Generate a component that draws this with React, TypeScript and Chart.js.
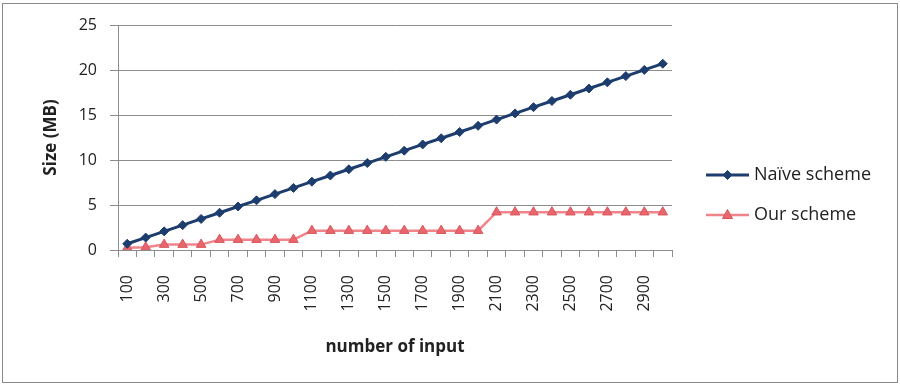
import React, { useEffect, useRef } from "react";
import { Chart, registerables } from "chart.js";

Chart.register(...registerables);

const categories: string[] = [
  "100", "200", "300", "400", "500", "600", "700", "800", "900", "1000",
  "1100", "1200", "1300", "1400", "1500", "1600", "1700", "1800", "1900", "2000",
  "2100", "2200", "2300", "2400", "2500", "2600", "2700", "2800", "2900", "3000",
];

const naiveScheme: number[] = [
  0.69, 1.38, 2.07, 2.76, 3.45, 4.14, 4.83, 5.52, 6.21, 6.9,
  7.59, 8.28, 8.97, 9.66, 10.35, 11.04, 11.73, 12.42, 13.11, 13.8,
  14.49, 15.18, 15.87, 16.56, 17.25, 17.94, 18.63, 19.32, 20.01, 20.7,
];

const ourScheme: number[] = [
  0.25, 0.3, 0.6, 0.6, 0.6, 1.15, 1.15, 1.15, 1.15, 1.15,
  2.15, 2.15, 2.15, 2.15, 2.15, 2.15, 2.15, 2.15, 2.15, 2.15,
  4.2, 4.2, 4.2, 4.2, 4.2, 4.2, 4.2, 4.2, 4.2, 4.2,
];

const seriesNames: string[] = ["Naïve scheme", "Our scheme"];
const yTicks = { min: 0, max: 25, step: 5 };

const NAVY = "#1c3d6e";
const PINK_LINE = "#f0848a";
const PINK_FILL = "#e8676e";
const PINK_BORDER = "#d9545a";
const GRID = "#8c8c8c";
const FONT = "'Open Sans', sans-serif";

const legendPlugin = {
  id: "customLegend",
  afterDraw(chart: any) {
    const ctx = chart.ctx as CanvasRenderingContext2D;
    const items = [
      { name: seriesNames[0], y: 175, color: NAVY, fill: NAVY, border: NAVY, shape: "diamond" },
      { name: seriesNames[1], y: 215, color: PINK_LINE, fill: PINK_FILL, border: PINK_BORDER, shape: "triangle" },
    ];
    ctx.save();
    for (const it of items) {
      ctx.strokeStyle = it.color;
      ctx.lineWidth = it.shape === "diamond" ? 3 : 2.5;
      ctx.beginPath();
      ctx.moveTo(706, it.y);
      ctx.lineTo(749, it.y);
      ctx.stroke();
      const cx = 727.5;
      ctx.fillStyle = it.fill;
      ctx.strokeStyle = it.border;
      ctx.lineWidth = 1;
      ctx.beginPath();
      if (it.shape === "diamond") {
        ctx.moveTo(cx, it.y - 4.5);
        ctx.lineTo(cx + 4.5, it.y);
        ctx.lineTo(cx, it.y + 4.5);
        ctx.lineTo(cx - 4.5, it.y);
      } else {
        ctx.moveTo(cx, it.y - 5.5);
        ctx.lineTo(cx + 5, it.y + 3.5);
        ctx.lineTo(cx - 5, it.y + 3.5);
      }
      ctx.closePath();
      ctx.fill();
      ctx.stroke();
      ctx.fillStyle = "#222";
      ctx.font = `18px ${FONT}`;
      ctx.textAlign = "left";
      ctx.textBaseline = "middle";
      ctx.fillText(it.name, 754, it.y);
    }
    ctx.restore();
  },
};

export default function App() {
  const ref = useRef<HTMLCanvasElement | null>(null);

  useEffect(() => {
    document.body.style.margin = "0";
    if (!ref.current) return;
    const chart = new Chart(ref.current, {
      type: "line",
      data: {
        labels: categories,
        datasets: [
          {
            label: seriesNames[0],
            data: naiveScheme,
            borderColor: NAVY,
            backgroundColor: NAVY,
            borderWidth: 3,
            pointStyle: "rectRot",
            pointRadius: 4.5,
            pointBackgroundColor: NAVY,
            pointBorderColor: NAVY,
            pointBorderWidth: 1,
            tension: 0,
          },
          {
            label: seriesNames[1],
            data: ourScheme,
            borderColor: PINK_LINE,
            backgroundColor: PINK_FILL,
            borderWidth: 2.5,
            pointStyle: "triangle",
            pointRadius: 5.5,
            pointBackgroundColor: PINK_FILL,
            pointBorderColor: PINK_BORDER,
            pointBorderWidth: 1,
            tension: 0,
          },
        ],
      },
      options: {
        responsive: false,
        animation: false,
        layout: { padding: { left: 37, right: 228, top: 25, bottom: 25 } },
        plugins: {
          legend: { display: false },
          tooltip: { enabled: false },
        },
        scales: {
          x: {
            offset: true,
            grid: {
              drawOnChartArea: false,
              drawTicks: true,
              tickLength: 7,
              color: GRID,
              offset: true,
            },
            border: { color: GRID, width: 1 },
            ticks: {
              autoSkip: false,
              maxRotation: 90,
              minRotation: 90,
              padding: 18,
              color: "#222",
              font: { family: FONT, size: 16 },
              callback: (_v: any, i: number) => (i % 2 === 0 ? categories[i] : ""),
            },
            title: {
              display: true,
              text: "number of input",
              color: "#222",
              font: { family: FONT, size: 17, weight: "bold" },
            },
            afterFit: (scale: any) => {
              scale.height = 111;
            },
          },
          y: {
            min: yTicks.min,
            max: yTicks.max,
            grid: { color: GRID, tickLength: 8 },
            border: { color: GRID, width: 1 },
            ticks: {
              stepSize: yTicks.step,
              padding: 13,
              color: "#222",
              font: { family: FONT, size: 16 },
            },
            title: {
              display: true,
              text: "Size (MB)",
              color: "#222",
              font: { family: FONT, size: 17, weight: "bold" },
            },
            afterFit: (scale: any) => {
              scale.width = 81;
            },
          },
        },
      },
      plugins: [legendPlugin],
    });
    return () => chart.destroy();
  }, []);

  return (
    <div style={{ position: "fixed", left: 0, top: 0, width: 900, height: 386, background: "#fff" }}>
      <canvas ref={ref} width={900} height={386} style={{ display: "block" }} />
      <div
        style={{
          position: "absolute",
          left: 2,
          top: 3,
          width: 894,
          height: 378,
          border: "1px solid #8a8a8a",
          pointerEvents: "none",
        }}
      />
    </div>
  );
}
